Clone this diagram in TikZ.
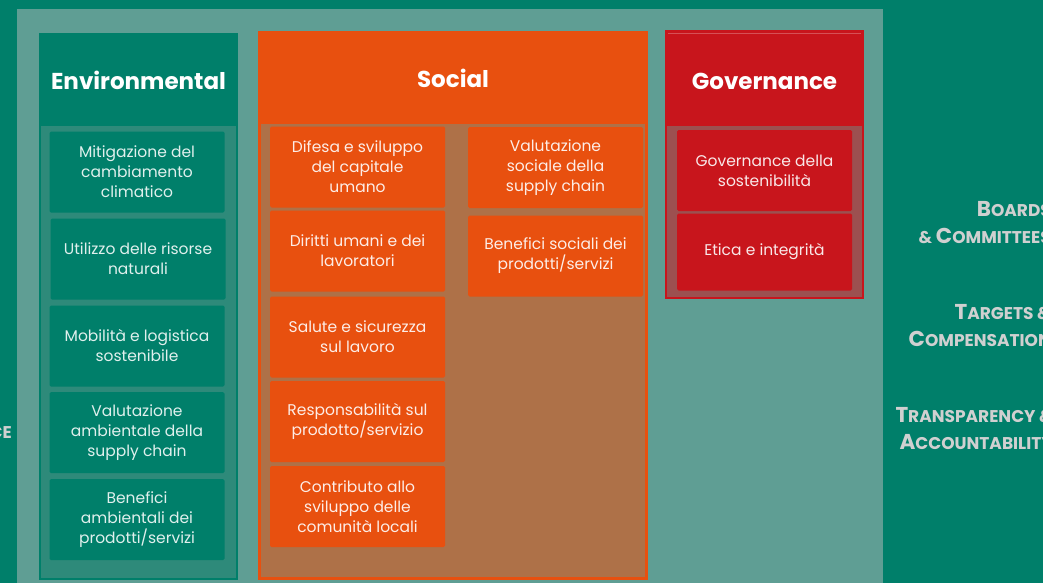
\documentclass[tikz,border=0pt]{standalone}
\usepackage{fontspec}
\setmainfont{Poppins}
\usetikzlibrary{positioning}

\definecolor{esgteal}{RGB}{0,127,106}
\definecolor{esgpanel}{RGB}{95,158,148}
\definecolor{esgtealbody}{RGB}{46,138,122}
\definecolor{esgorange}{RGB}{232,80,15}
\definecolor{esgbrown}{RGB}{174,113,72}
\definecolor{esgred}{RGB}{200,21,28}
\definecolor{esgredbody}{RGB}{156,80,80}
\definecolor{esggray}{RGB}{208,208,208}

\newcommand{\smc}[1]{{\fontsize{17}{27}\selectfont #1}}

\tikzset{
	topic/.style={minimum width=175pt, minimum height=81pt, inner sep=0pt, align=center, rounded corners=1.5pt, font=\fontsize{15.5}{20}\selectfont},
	envtopic/.style={topic, fill=esgteal, text=white!88!esgteal},
	soctopic/.style={topic, fill=esgorange, text=white!90!esgorange},
	govtopic/.style={topic, fill=esgred, text=white!90!esgred},
	pillar/.style={text=white, inner sep=0pt, font=\bfseries\fontsize{23}{27}\selectfont},
	lever/.style={anchor=east, align=right, inner sep=0pt, text=esggray, font=\bfseries\fontsize{21.5}{27}\selectfont},
}

\begin{document}
\begin{tikzpicture}[x=1pt, y=-1pt]
			%%%%% START %%%%%
			
			\useasboundingbox (0, 0) rectangle (1043, 583);
			\clip (0, 0) rectangle (1043, 583);
			\fill[esgteal] (0, 0) rectangle (1043, 583);
			\fill[esgpanel] (17, 9) rectangle (883, 583);
			
			% Environmental
			\draw[line width=2pt, draw=esgteal, fill=esgtealbody] (40, 34) rectangle (237, 579);
			\fill[esgteal] (39, 33) rectangle (238, 126);
			\node[pillar] (envhead) at (138.5, 80) {Environmental};
			
			\node[envtopic] (env1) at (137, 172) {Mitigazione del\\cambiamento\\climatico};
			\node[envtopic] (env2) at (138, 259) {Utilizzo delle risorse\\naturali};
			\node[envtopic] (env3) at (137, 346) {Mobilità e logistica\\sostenibile};
			\node[envtopic] (env4) at (137, 432.5) {Valutazione\\ambientale della\\supply chain};
			\node[envtopic] (env5) at (137, 519.5) {Benefici\\ambientali dei\\prodotti/servizi};
			
			% Social
			\draw[line width=3pt, draw=esgorange, fill=esgbrown] (259.5, 32.5) rectangle (646.5, 578.5);
			\fill[esgorange] (258, 31) rectangle (648, 124);
			\node[pillar] (sochead) at (453, 78) {Social};
			
			\node[soctopic] (soc1) at (357.5, 167) {Difesa e sviluppo\\del capitale\\umano};
			\node[soctopic] (soc2) at (357.5, 251) {Diritti umani e dei\\lavoratori};
			\node[soctopic] (soc3) at (357.5, 337) {Salute e sicurezza\\sul lavoro};
			\node[soctopic] (soc4) at (357.5, 421.5) {Responsabilità sul\\prodotto/servizio};
			\node[soctopic] (soc5) at (357.5, 506.5) {Contributo allo\\sviluppo delle\\comunità locali};
			\node[soctopic] (soc6) at (555.5, 167.5) {Valutazione\\sociale della\\supply chain};
			\node[soctopic] (soc7) at (555.5, 256) {Benefici sociali dei\\prodotti/servizi};
			
			% Governance
			\draw[line width=2pt, draw=esgred, fill=esgredbody] (666, 31) rectangle (863, 298);
			\fill[esgred] (665, 30) rectangle (864, 126);
			\draw[line width=0.6pt, esgred!75!white] (668, 33) -- (861, 33);
			\node[pillar] (govhead) at (764.5, 81) {Governance};
			
			\node[govtopic] (gov1) at (764.5, 170.5) {Governance della\\sostenibilità};
			\node[govtopic, minimum height=77pt] (gov2) at (764.5, 252) {Etica e integrità};
			
			% side labels
			\node[lever] (boards) at (1051, 223) {B\smc{OARDS}\\\smc{\& }C\smc{OMMITTEES}};
			\node[lever] (targets) at (1051, 326) {T\smc{ARGETS \&}\\C\smc{OMPENSATION}};
			\node[lever] (transp) at (1053, 429) {T\smc{RANSPARENCY \&}\\A\smc{CCOUNTABILITY}};
			\node[lever] (leftcut) at (12, 433) {\smc{CE}};
			
			%%%%% END %%%%%
		\end{tikzpicture}
\end{document}
